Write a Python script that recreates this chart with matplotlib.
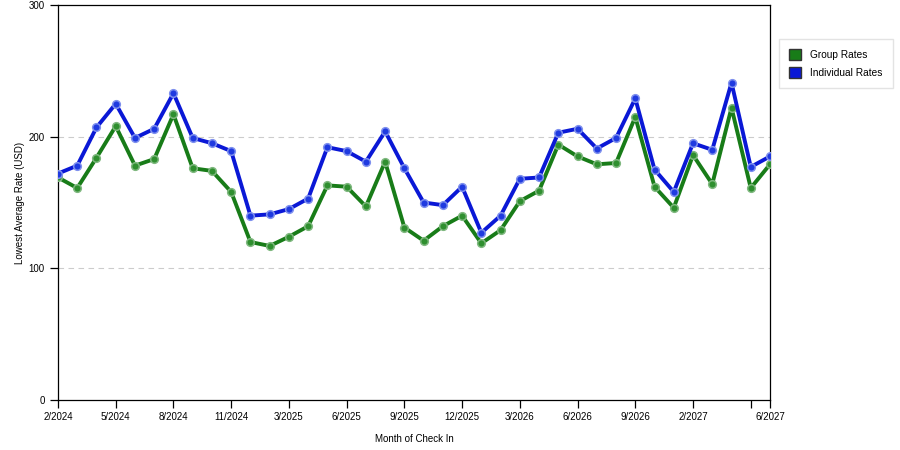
import matplotlib
matplotlib.use("Agg")
import matplotlib.pyplot as plt
from matplotlib.patches import Patch

plt.rcParams['font.family'] = ['Liberation Sans', 'DejaVu Sans']

months = ["2/2024", "3/2024", "4/2024", "5/2024", "6/2024", "7/2024", "8/2024",
          "9/2024", "10/2024", "11/2024", "12/2024", "1/2025", "3/2025",
          "4/2025", "5/2025", "6/2025", "7/2025", "8/2025", "9/2025",
          "10/2025", "11/2025", "12/2025", "1/2026", "2/2026", "3/2026",
          "4/2026", "5/2026", "6/2026", "7/2026", "8/2026", "9/2026",
          "11/2026", "12/2026", "2/2027", "3/2027", "4/2027", "5/2027", "6/2027"]

group_rates = [169, 161, 184, 208, 178, 183, 217, 176, 174, 158, 120, 117,
               124, 132, 163, 162, 147, 181, 131, 121, 132, 140, 119, 129,
               151, 159, 194, 185, 179, 180, 215, 162, 146, 186, 164, 222,
               161, 179]

individual_rates = [172, 178, 207, 225, 199, 206, 233, 199, 195, 189, 140, 141,
                    145, 153, 192, 189, 181, 204, 176, 150, 148, 162, 127, 140,
                    168, 169, 203, 206, 191, 199, 229, 175, 158, 195, 190, 241,
                    177, 185]

green = "#187c18"
blue = "#0a18d6"

fig = plt.figure(figsize=(9, 4.5), dpi=100)
ax = fig.add_axes([58 / 900, 1 - 400 / 450, (770 - 58) / 900, 395 / 450])

x = list(range(len(months)))
ax.plot(x, group_rates, color=green, lw=2.8, marker="o", ms=5.5,
        mfc="#2f8f2f", mec="#7fb87f", mew=1.1, zorder=3)
ax.plot(x, individual_rates, color=blue, lw=2.8, marker="o", ms=5.5,
        mfc="#1f3ae0", mec="#7f90ee", mew=1.1, zorder=3)

ax.set_xlim(0, len(months) - 1)
ax.set_ylim(0, 300)
ax.set_yticks([0, 100, 200, 300])
for yv in [100, 200]:
    ax.axhline(yv, color="#cccccc", lw=0.8, ls=(0, (5, 4)), zorder=1)

ticks = list(range(0, len(months), 3)) + [len(months) - 1]
labels = [months[t] for t in ticks]
labels[-2] = ""  # would collide with the last label
ax.set_xticks(ticks)
ax.set_xticklabels(labels)
ax.tick_params(axis="both", labelsize=7, length=6, width=0.9, color="black")
ax.tick_params(axis="x", pad=3)

for s in ax.spines.values():
    s.set_color("black")
    s.set_linewidth(0.9)

ax.set_xlabel("Month of Check In", fontsize=7, labelpad=8)
ax.set_ylabel("Lowest Average Rate (USD)", fontsize=7, labelpad=3)

handles = [Patch(facecolor=green, edgecolor="#333333", label="Group Rates"),
           Patch(facecolor=blue, edgecolor="#333333", label="Individual Rates")]
fig.legend(handles=handles, loc="upper left", bbox_to_anchor=(779 / 900, 1 - 39 / 450),
           fontsize=7.3, frameon=True, fancybox=False, edgecolor="#dddddd",
           handlelength=1.2, handleheight=1.2, borderpad=1.0, labelspacing=0.75,
           handletextpad=0.9, borderaxespad=0)

fig.savefig("out.png", dpi=100)
